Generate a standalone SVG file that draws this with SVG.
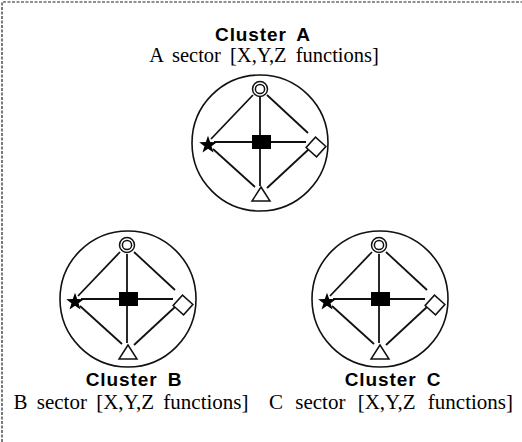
<svg xmlns="http://www.w3.org/2000/svg" width="522" height="442" viewBox="0 0 522 442">
  <style>
    .frame { fill: none; stroke: #222; stroke-width: 1.2; stroke-dasharray: 3 1.5; }
    .ring { fill: none; stroke: #111; stroke-width: 1.6; }
    .link { stroke: #111; stroke-width: 1.8; fill: none; stroke-linecap: butt; }
    .hollow { fill: #fff; stroke: #111; stroke-width: 1.5; }
    .solid { fill: #000; stroke: none; }
    .title { font-family: "Liberation Sans", Arial, sans-serif; font-weight: bold; font-size: 19px; letter-spacing: 0.9px; word-spacing: 4px; text-anchor: middle; fill: #000; }
    .sub { font-family: "Liberation Serif", "Times New Roman", serif; font-size: 20.5px; word-spacing: 4px; text-anchor: middle; fill: #000; }
    .sub2 { font-size: 21px; }
  </style>
  <defs>
    <g id="dbl">
      <circle r="7.5" class="hollow"/>
      <circle r="4.6" class="hollow"/>
    </g>
    <path id="star" class="solid" d="M0,-9.3 L2.2,-3 L8.85,-2.87 L3.55,1.15 L5.47,7.52 L0,3.75 L-5.47,7.52 L-3.55,1.15 L-8.85,-2.87 L-2.2,-3 Z"/>
    <rect id="hub" class="solid" x="-8" y="-7" width="19" height="14"/>
    <rect id="dia" class="hollow" x="-7" y="-7" width="14" height="14" transform="rotate(42)"/>
    <path id="tri" class="hollow" d="M0,0 L9,14 L-9,14 Z"/>
    <g id="links">
      <line x1="0" y1="-45" x2="0" y2="-7"/>
      <line x1="0" y1="7" x2="0" y2="44"/>
      <line x1="-46" y1="0" x2="-8" y2="0"/>
      <line x1="11" y1="0" x2="46" y2="0"/>
      <line x1="-7" y1="-47" x2="-49" y2="-3"/>
      <line x1="7" y1="-47" x2="48" y2="-9"/>
      <line x1="-47" y1="7" x2="-5" y2="45"/>
      <line x1="49" y1="7" x2="7" y2="46"/>
    </g>
  </defs>

  <path class="frame" d="M2,442 L2,2 L522,2"/>

  <g id="connectors" class="link">
    <use href="#links" transform="translate(260,142)"/>
    <use href="#links" transform="translate(127,299)"/>
    <use href="#links" transform="translate(379,299)"/>
  </g>

  <g id="clusterA">
    <text class="title" x="263" y="41">Cluster A</text>
    <text class="sub" x="264" y="62">A sector [X,Y,Z functions]</text>
    <circle class="ring" cx="260" cy="143" r="68"/>
    <g id="A-ring"><use href="#dbl" x="260" y="89"/></g>
    <g id="A-star"><use href="#star" x="208" y="145"/></g>
    <g id="A-hub"><use href="#hub" x="260" y="142"/></g>
    <g id="A-diamond"><use href="#dia" x="316" y="147"/></g>
    <g id="A-triangle"><use href="#tri" x="261" y="187"/></g>
  </g>

  <g id="clusterB">
    <circle class="ring" cx="128" cy="299" r="68"/>
    <g id="B-ring"><use href="#dbl" x="127" y="245"/></g>
    <g id="B-star"><use href="#star" x="75" y="302"/></g>
    <g id="B-hub"><use href="#hub" x="127" y="299"/></g>
    <g id="B-diamond"><use href="#dia" x="183" y="305"/></g>
    <g id="B-triangle"><use href="#tri" x="128" y="345"/></g>
    <text class="title" x="134" y="386">Cluster B</text>
    <text class="sub sub2" x="131" y="408.5" style="word-spacing:4px">B sector [X,Y,Z functions]</text>
  </g>

  <g id="clusterC">
    <circle class="ring" cx="380" cy="299" r="68"/>
    <g id="C-ring"><use href="#dbl" x="379" y="245"/></g>
    <g id="C-star"><use href="#star" x="327" y="302"/></g>
    <g id="C-hub"><use href="#hub" x="379" y="299"/></g>
    <g id="C-diamond"><use href="#dia" x="435" y="305"/></g>
    <g id="C-triangle"><use href="#tri" x="380" y="345"/></g>
    <text class="title" x="393" y="386">Cluster C</text>
    <text class="sub sub2" x="391" y="408.5" style="word-spacing:7px">C sector [X,Y,Z functions]</text>
  </g>
</svg>
